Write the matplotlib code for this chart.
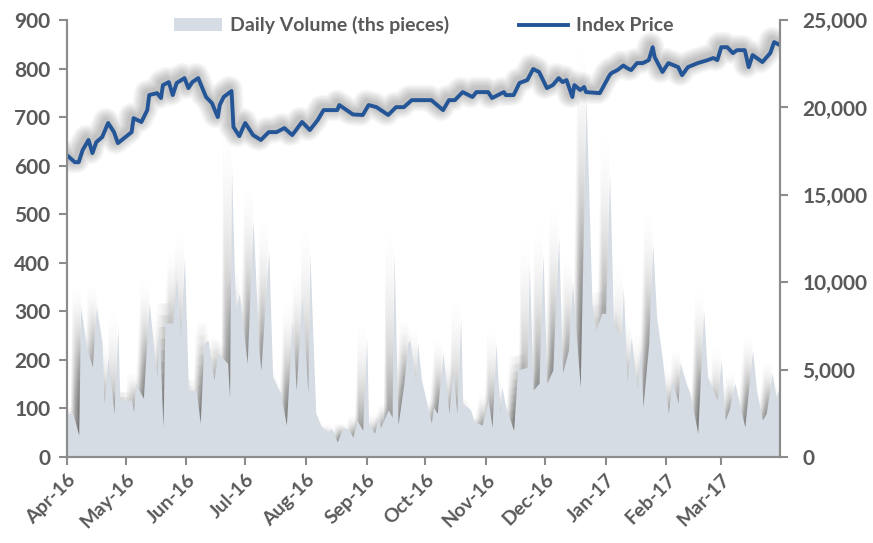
import numpy as np
import pandas as pd
import matplotlib
matplotlib.use("Agg")
import matplotlib.pyplot as plt
import matplotlib.dates as mdates
import matplotlib.transforms as mtransforms
from matplotlib.ticker import FuncFormatter, MultipleLocator

# daily volume (ths pieces)
vol_dates = ['2016-04-01', '2016-04-04', '2016-04-07', '2016-04-08', '2016-04-11', '2016-04-14',
             '2016-04-16', '2016-04-19', '2016-04-20', '2016-04-22', '2016-04-25', '2016-04-27',
             '2016-04-28', '2016-05-04', '2016-05-05', '2016-05-06', '2016-05-10', '2016-05-13',
             '2016-05-15', '2016-05-17', '2016-05-18', '2016-05-20', '2016-05-21', '2016-05-25',
             '2016-05-27', '2016-05-29', '2016-05-31', '2016-06-02', '2016-06-06', '2016-06-08',
             '2016-06-10', '2016-06-12', '2016-06-15', '2016-06-17', '2016-06-19', '2016-06-22',
             '2016-06-23', '2016-06-24', '2016-06-26', '2016-06-28', '2016-07-02', '2016-07-05',
             '2016-07-08', '2016-07-09', '2016-07-13', '2016-07-15', '2016-07-19', '2016-07-22',
             '2016-07-25', '2016-07-27', '2016-07-30', '2016-08-02', '2016-08-03', '2016-08-06',
             '2016-08-09', '2016-08-12', '2016-08-14', '2016-08-17', '2016-08-20', '2016-08-23',
             '2016-08-25', '2016-08-27', '2016-08-30', '2016-09-01', '2016-09-02', '2016-09-05',
             '2016-09-07', '2016-09-08', '2016-09-12', '2016-09-14', '2016-09-15', '2016-09-17',
             '2016-09-20', '2016-09-22', '2016-09-23', '2016-09-26', '2016-09-27', '2016-09-29',
             '2016-10-04', '2016-10-05', '2016-10-07', '2016-10-10', '2016-10-13', '2016-10-15',
             '2016-10-17', '2016-10-19', '2016-10-20', '2016-10-24', '2016-10-26', '2016-10-30',
             '2016-11-02', '2016-11-04', '2016-11-06', '2016-11-08', '2016-11-09', '2016-11-11',
             '2016-11-15', '2016-11-17', '2016-11-22', '2016-11-23', '2016-11-25', '2016-11-28',
             '2016-11-30', '2016-12-02', '2016-12-05', '2016-12-08', '2016-12-10', '2016-12-13',
             '2016-12-15', '2016-12-19', '2016-12-22', '2016-12-25', '2016-12-27', '2016-12-30',
             '2017-01-01', '2017-01-03', '2017-01-05', '2017-01-09', '2017-01-10', '2017-01-12',
             '2017-01-14', '2017-01-17', '2017-01-19', '2017-01-20', '2017-01-23', '2017-01-25',
             '2017-01-27', '2017-01-30', '2017-02-02', '2017-02-04', '2017-02-07', '2017-02-08',
             '2017-02-11', '2017-02-13', '2017-02-17', '2017-02-20', '2017-02-22', '2017-02-27',
             '2017-03-01', '2017-03-03', '2017-03-05', '2017-03-08', '2017-03-11', '2017-03-13',
             '2017-03-17', '2017-03-19', '2017-03-22', '2017-03-24', '2017-03-27', '2017-03-29',
             '2017-03-30', '2017-03-31']
volume = [90, 90, 45, 309, 226, 185,
          309, 235, 111, 206, 90, 267,
          117, 117, 93, 152, 121, 317,
          235, 165, 267, 62, 276, 276,
          370, 247, 411, 138, 138, 70,
          235, 241, 158, 214, 206, 193,
          123, 597, 302, 337, 193, 488,
          220, 179, 426, 165, 132, 66,
          282, 138, 329, 132, 420, 90,
          62, 51, 60, 31, 62, 55,
          41, 76, 55, 247, 70, 49,
          82, 60, 97, 82, 420, 66,
          152, 235, 241, 158, 235, 158,
          70, 103, 90, 214, 90, 185,
          90, 288, 111, 97, 72, 66,
          117, 62, 235, 90, 144, 103,
          55, 179, 185, 400, 138, 152,
          420, 152, 179, 453, 173, 220,
          360, 144, 740, 317, 261, 296,
          296, 584, 276, 247, 350, 158,
          247, 144, 226, 103, 235, 440,
          288, 200, 90, 158, 111, 193,
          152, 132, 49, 302, 165, 117,
          200, 76, 97, 152, 97, 62,
          220, 138, 76, 90, 173, 123,
          138, 110]

# index price
px_dates = ['2016-04-01', '2016-04-05', '2016-04-07', '2016-04-09', '2016-04-12', '2016-04-14',
            '2016-04-16', '2016-04-19', '2016-04-22', '2016-04-25', '2016-04-27', '2016-05-04',
            '2016-05-05', '2016-05-09', '2016-05-12', '2016-05-13', '2016-05-17', '2016-05-19',
            '2016-05-20', '2016-05-23', '2016-05-25', '2016-05-27', '2016-05-31', '2016-06-02',
            '2016-06-04', '2016-06-07', '2016-06-11', '2016-06-14', '2016-06-17', '2016-06-18',
            '2016-06-20', '2016-06-24', '2016-06-25', '2016-06-28', '2016-06-30', '2016-07-01',
            '2016-07-05', '2016-07-09', '2016-07-13', '2016-07-17', '2016-07-21', '2016-07-25',
            '2016-07-30', '2016-08-03', '2016-08-07', '2016-08-10', '2016-08-17', '2016-08-18',
            '2016-08-25', '2016-08-30', '2016-09-02', '2016-09-06', '2016-09-12', '2016-09-16',
            '2016-09-20', '2016-09-24', '2016-09-28', '2016-10-04', '2016-10-10', '2016-10-13',
            '2016-10-16', '2016-10-20', '2016-10-25', '2016-10-27', '2016-11-02', '2016-11-04',
            '2016-11-10', '2016-11-11', '2016-11-15', '2016-11-18', '2016-11-22', '2016-11-25',
            '2016-11-28', '2016-12-02', '2016-12-05', '2016-12-08', '2016-12-10', '2016-12-12',
            '2016-12-15', '2016-12-16', '2016-12-19', '2016-12-21', '2016-12-22', '2016-12-29',
            '2017-01-03', '2017-01-04', '2017-01-07', '2017-01-10', '2017-01-12', '2017-01-14',
            '2017-01-17', '2017-01-20', '2017-01-23', '2017-01-25', '2017-01-26', '2017-01-30',
            '2017-02-02', '2017-02-07', '2017-02-09', '2017-02-12', '2017-02-17', '2017-02-22',
            '2017-02-25', '2017-02-27', '2017-03-01', '2017-03-04', '2017-03-07', '2017-03-09',
            '2017-03-13', '2017-03-15', '2017-03-17', '2017-03-22', '2017-03-26', '2017-03-28',
            '2017-03-31']
price = [17270, 16870, 16870, 17560, 18140, 17390,
         18020, 18310, 19110, 18590, 17960, 18590,
         19390, 19170, 19850, 20710, 20820, 20540,
         21280, 21450, 20710, 21400, 21680, 21110,
         21450, 21680, 20600, 20250, 19450, 20140,
         20600, 20940, 18880, 18360, 18880, 19110,
         18420, 18140, 18590, 18590, 18820, 18420,
         19170, 18710, 19280, 19850, 19850, 20140,
         19600, 19570, 20140, 20020, 19570, 20020,
         20020, 20420, 20420, 20420, 19850, 20420,
         20420, 20880, 20600, 20880, 20880, 20540,
         20880, 20710, 20710, 21400, 21570, 22200,
         22030, 21110, 21280, 21680, 21450, 21570,
         20600, 21280, 21000, 21170, 20880, 20820,
         21850, 21970, 22140, 22400, 22250, 22140,
         22540, 22540, 22710, 23450, 22880, 22030,
         22540, 22310, 21850, 22310, 22540, 22710,
         22830, 22710, 23450, 23450, 23110, 23280,
         23280, 22310, 23000, 22600, 23110, 23740,
         23570]

vd = pd.to_datetime(vol_dates)
pdt = pd.to_datetime(px_dates)
volume = np.array(volume, float)

grey = '#595959'
axis_c = '#8c8c8c'
plt.rcParams['font.family'] = ['Lato', 'DejaVu Sans']
plt.rcParams['font.weight'] = 'bold'

fig = plt.figure(figsize=(8.73, 5.43), dpi=100)
ax = fig.add_axes([0.0767, 0.1584, 0.8168, 0.8046])
ax2 = ax.twinx()

# soft blurred shadow behind the volume area (shifted left, fading upward)
vnum = mdates.date2num(vd)
for dx in np.linspace(0.8, 4.5, 6):
    for f in np.linspace(0.45, 1.15, 9):
        ax.fill_between(vnum - dx, 0, volume * f,
                        color='k', alpha=0.011, lw=0, zorder=1)
ax.fill_between(vnum, 0, volume, color='#d6dce4', lw=0, zorder=2,
                label='Daily Volume (ths pieces)')

# soft shadow around the price line
for w in range(5, 21, 2):
    tr = mtransforms.offset_copy(ax2.transData, fig=fig, x=-1.5, y=1.5, units='points')
    ax2.plot(pdt, price, color='k', lw=w, alpha=0.03, transform=tr,
             solid_joinstyle='round', solid_capstyle='round')
ax2.plot(pdt, price, color='#245597', lw=2.8, label='Index Price',
         solid_joinstyle='round')

ax.set_xlim(pd.Timestamp('2016-04-01'), pd.Timestamp('2017-03-31'))
ax.set_ylim(0, 900)
ax2.set_ylim(0, 25000)
ax.yaxis.set_major_locator(MultipleLocator(100))
ax2.yaxis.set_major_locator(MultipleLocator(5000))
ax2.yaxis.set_major_formatter(FuncFormatter(lambda v, p: f'{int(v):,}'))

ax.xaxis.set_major_locator(mdates.MonthLocator())
ax.xaxis.set_major_formatter(mdates.DateFormatter('%b-%y'))

for a in (ax, ax2):
    for s in a.spines.values():
        s.set_color(axis_c)
        s.set_linewidth(1.5)
    a.spines['top'].set_visible(False)
    a.tick_params(colors=axis_c, width=1.5, length=6, labelcolor=grey,
                  labelsize=15)
ax.tick_params(axis='y', pad=6)
ax2.tick_params(axis='y', pad=10)
ax.tick_params(axis='x', pad=4, labelsize=14)

for lab in ax.get_xticklabels():
    lab.set_rotation(45)
    lab.set_ha('right')
    lab.set_rotation_mode('anchor')
for lab in ax.get_xticklabels() + ax.get_yticklabels() + ax2.get_yticklabels():
    lab.set_fontweight('bold')

h1, l1 = ax.get_legend_handles_labels()
h2, l2 = ax2.get_legend_handles_labels()
leg = ax2.legend(h1 + h2, l1 + l2, loc='center', bbox_to_anchor=(0.5, 0.988),
                 ncol=2, frameon=False, handlelength=2.5,
                 columnspacing=3.6, handletextpad=0.4,
                 prop={'size': 14, 'weight': 'bold'})
for t in leg.get_texts():
    t.set_color(grey)

fig.savefig('out.png', dpi=100)
